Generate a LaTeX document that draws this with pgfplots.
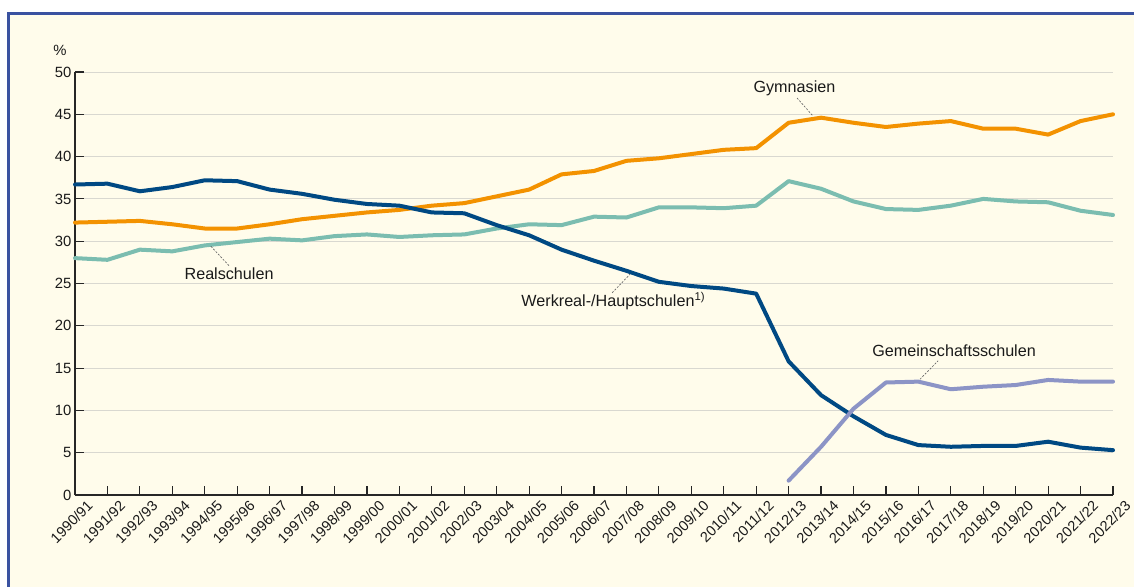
\documentclass[border=0pt]{standalone}
\usepackage{pgfplots}
\pgfplotsset{compat=1.18}
\usepackage{fontspec}
\setmainfont{Liberation Sans}
\definecolor{cDark}{HTML}{004983}
\definecolor{cOrange}{HTML}{F39200}
\definecolor{cTeal}{HTML}{7BBDB0}
\definecolor{cLav}{HTML}{8C94C6}
\definecolor{cCream}{HTML}{FFFCEB}
\definecolor{cBorder}{HTML}{3A52A0}
\definecolor{cGrid}{HTML}{D9D8D0}
\definecolor{cText}{HTML}{1A1A1A}
\begin{document}
\begin{tikzpicture}
\useasboundingbox (0,0) rectangle (680.4pt,351.6pt);
\fill[white] (0,0) rectangle (680.4pt,351.6pt);
\fill[cCream] (5.2pt,-5pt) rectangle (690pt,343.5pt);
\draw[cBorder,line width=1.8pt] (5.2pt,-5pt) -- (5.2pt,343.5pt) -- (690pt,343.5pt);
\begin{axis}[
  at={(45pt,54.6pt)}, anchor=south west,
  scale only axis, width=622.8pt, height=253.8pt,
  xmin=0, xmax=32, ymin=0, ymax=50,
  axis x line=bottom, axis y line=left,
  axis line style={-, line width=0.9pt, color=black!85},
  xtick={0,...,32},
  xticklabels={1990/91,1991/92,1992/93,1993/94,1994/95,1995/96,1996/97,1997/98,1998/99,1999/00,2000/01,2001/02,2002/03,2003/04,2004/05,2005/06,2006/07,2007/08,2008/09,2009/10,2010/11,2011/12,2012/13,2013/14,2014/15,2015/16,2016/17,2017/18,2018/19,2019/20,2020/21,2021/22,2022/23},
  ytick={0,5,...,50},
  ymajorgrids, grid style={line width=0.6pt, color=cGrid},
  tick align=inside, major tick length=5.5pt,
  tick style={line width=0.7pt, color=black!85},
  xticklabel style={rotate=45, anchor=north east, inner sep=0.5pt, yshift=-6pt, xshift=3.5pt, font=\fontsize{8.7}{10}\selectfont, text=cText},
  yticklabel style={font=\fontsize{8.9}{10}\selectfont, text=cText, inner sep=1pt, xshift=-1pt},
  /pgf/number format/assume math mode=true,
  clip=false,
  every axis plot/.append style={line width=2.4pt, line join=round, line cap=round, mark=none},
]
\addplot[cTeal] table[x=x,y=y] {
x y
0 28.0
1 27.8
2 29.0
3 28.8
4 29.5
5 29.9
6 30.3
7 30.1
8 30.6
9 30.8
10 30.5
11 30.7
12 30.8
13 31.5
14 32.0
15 31.9
16 32.9
17 32.8
18 34.0
19 34.0
20 33.9
21 34.2
22 37.1
23 36.2
24 34.7
25 33.8
26 33.7
27 34.2
28 35.0
29 34.7
30 34.6
31 33.6
32 33.1
};
\addplot[cOrange] table[x=x,y=y] {
x y
0 32.2
1 32.3
2 32.4
3 32.0
4 31.5
5 31.5
6 32.0
7 32.6
8 33.0
9 33.4
10 33.7
11 34.2
12 34.5
13 35.3
14 36.1
15 37.9
16 38.3
17 39.5
18 39.8
19 40.3
20 40.8
21 41.0
22 44.0
23 44.6
24 44.0
25 43.5
26 43.9
27 44.2
28 43.3
29 43.3
30 42.6
31 44.2
32 45.0
};
\addplot[cDark] table[x=x,y=y] {
x y
0 36.7
1 36.8
2 35.9
3 36.4
4 37.2
5 37.1
6 36.1
7 35.6
8 34.9
9 34.4
10 34.2
11 33.4
12 33.3
13 31.9
14 30.7
15 29.0
16 27.7
17 26.5
18 25.2
19 24.7
20 24.4
21 23.8
22 15.8
23 11.8
24 9.3
25 7.1
26 5.9
27 5.7
28 5.8
29 5.8
30 6.3
31 5.6
32 5.3
};
\addplot[cLav] table[x=x,y=y] {
x y
22 1.7
23 5.7
24 10.2
25 13.3
26 13.4
27 12.5
28 12.8
29 13.0
30 13.6
31 13.4
32 13.4
};
\begin{scope}[every node/.style={font=\fontsize{9.7}{11}\selectfont, text=cText, inner sep=0pt}]
\node at (axis cs:-0.46,52.5) {\fontsize{8.9}{10}\selectfont \%};
\node at (axis cs:22.18,48.05) {Gymnasien};
\node at (axis cs:4.75,26.1) {Realschulen};
\node[anchor=base] at (axis cs:16.6,22.3) {Werkreal-/Hauptschulen\textsuperscript{\fontsize{6.8}{7}\selectfont 1)}};
\node at (axis cs:27.1,17.0) {Gemeinschaftsschulen};
\end{scope}
\begin{scope}[gray!80!black, line width=0.4pt, dash pattern=on 1.2pt off 0.9pt]
\draw (axis cs:22.26,46.93) -- (axis cs:22.75,44.8);
\draw (axis cs:4.19,29.4) -- (axis cs:4.75,27.1);
\draw (axis cs:16.56,23.9) -- (axis cs:17.11,26.1);
\draw (axis cs:26.05,13.68) -- (axis cs:26.61,15.87);
\end{scope}
\end{axis}
\end{tikzpicture}
\end{document}
